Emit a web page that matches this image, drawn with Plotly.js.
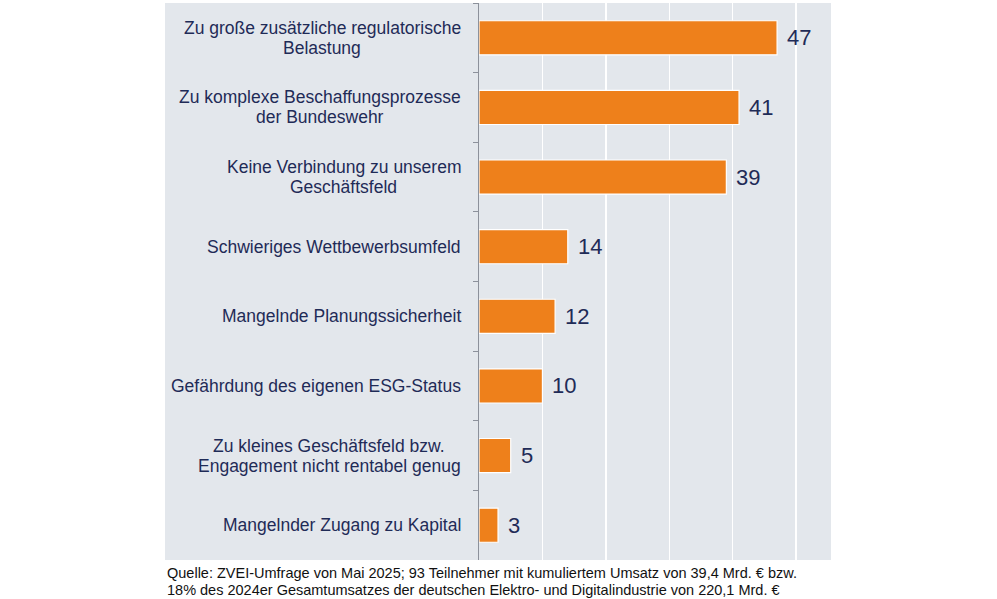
<!DOCTYPE html>
<html>
<head>
<meta charset="utf-8">
<script src="https://cdn.plot.ly/plotly-3.0.1.min.js"></script>
<style>
  html, body { margin: 0; padding: 0; background: #ffffff; }
  #chart { width: 997px; height: 599px; }
</style>
</head>
<body>
<div id="chart"></div>
<script>
// Gründe gegen ein Engagement im Verteidigungsbereich (Anteil in %)
const categories = [
  "Zu große zusätzliche regulatorische<br>Belastung",
  "Zu komplexe Beschaffungsprozesse<br>der Bundeswehr",
  "Keine Verbindung zu unserem<br>Geschäftsfeld",
  "Schwieriges Wettbewerbsumfeld",
  "Mangelnde Planungssicherheit",
  "Gefährdung des eigenen ESG-Status",
  "Zu kleines Geschäftsfeld bzw.<br>Engagement nicht rentabel genug",
  "Mangelnder Zugang zu Kapital"
];
const values = [47, 41, 39, 14, 12, 10, 5, 3];
const sourceLines = [
  "Quelle: ZVEI-Umfrage von Mai 2025; 93 Teilnehmer mit kumuliertem Umsatz von 39,4 Mrd. € bzw.",
  "18% des 2024er Gesamtumsatzes der deutschen Elektro- und Digitalindustrie von 220,1 Mrd. €"
];

const navy = "#1f2b57";
const panel = "#e3e7ec";
const fontFamily = "Liberation Sans, Arial, sans-serif";
const labelSize = 17.5;

const W = 997, H = 599;
const plotL = 479, plotR = 831, plotT = 3, plotB = 560;
const plotW = plotR - plotL, plotH = plotB - plotT;
const px2paperX = x => (x - plotL) / plotW;
const px2paperY = y => (plotB - y) / plotH;

const annotations = [];
// Category labels: one annotation per line, tight line spacing,
// shorter lines centred under the longest line of the label
const labelLineGap = 20;
const measure = document.createElement("canvas").getContext("2d");
measure.font = labelSize + "px " + fontFamily;
categories.forEach(c => {
  const lines = c.split("<br>");
  const widths = lines.map(l => measure.measureText(l).width);
  const maxW = Math.max(...widths);
  lines.forEach((line, k) => {
    const offset = (k - (lines.length - 1) / 2) * labelLineGap;
    annotations.push({
      xref: "paper", yref: "y", x: px2paperX(463), y: c,
      xanchor: "right", yanchor: "middle",
      xshift: -(maxW - widths[k]) / 2,
      yshift: -offset,
      text: line, showarrow: false,
      font: { family: fontFamily, size: labelSize, color: navy }
    });
  });
});
// Value labels next to each bar
categories.forEach((c, i) => {
  annotations.push({
    xref: "x", yref: "y", x: values[i], y: c,
    xanchor: "left", yanchor: "middle", xshift: 8,
    text: String(values[i]), showarrow: false,
    font: { family: fontFamily, size: 22, color: navy }
  });
});
// Source note, one annotation per line
const sourceY = [573, 590];
sourceLines.forEach((line, k) => {
  annotations.push({
    xref: "paper", yref: "paper", x: px2paperX(165), y: px2paperY(sourceY[k]),
    xanchor: "left", yanchor: "middle", align: "left",
    text: line, showarrow: false,
    font: { family: fontFamily, size: 14.5, color: "#111111" }
  });
});

const data = [{
  type: "bar",
  orientation: "h",
  x: values,
  y: categories,
  marker: { color: "#ee801b", line: { color: "#ffffff", width: 1.2 } },
  hoverinfo: "skip"
}];

const layout = {
  width: W, height: H,
  margin: { l: plotL, r: W - plotR, t: plotT, b: H - plotB, pad: 0 },
  paper_bgcolor: "#ffffff",
  plot_bgcolor: panel,
  showlegend: false,
  bargap: 0.51,
  font: { family: fontFamily, color: navy },
  xaxis: {
    range: [0, 55.5],
    tickvals: [10, 20, 30, 40, 50],
    showticklabels: false,
    showgrid: true, gridcolor: "#ffffff", gridwidth: 1.5,
    zeroline: false, showline: false, ticks: ""
  },
  yaxis: {
    type: "category",
    categoryorder: "array",
    categoryarray: categories,
    autorange: "reversed",
    showticklabels: false,
    showgrid: false, zeroline: false,
    showline: true, linecolor: "#8c919b", linewidth: 1,
    ticks: "outside", tickson: "boundaries", ticklen: 5, tickcolor: "#8c919b", tickwidth: 1
  },
  shapes: [{
    type: "rect", xref: "paper", yref: "paper",
    x0: px2paperX(165), x1: 1, y0: 0, y1: 1,
    fillcolor: panel, line: { width: 0 }, layer: "below"
  }],
  annotations: annotations
};

Plotly.newPlot("chart", data, layout, { staticPlot: true, displayModeBar: false });
</script>
</body>
</html>
